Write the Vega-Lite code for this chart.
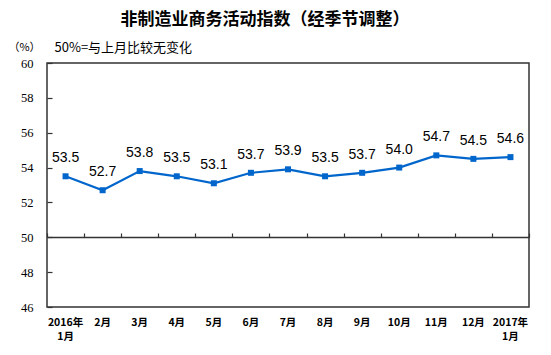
{
  "$schema": "https://vega.github.io/schema/vega-lite/v6.json",
  "autosize": "none",
  "width": 482,
  "height": 244,
  "padding": {"left": 47, "top": 63, "right": 22, "bottom": 48},
  "background": "white",
  "config": {"view": {"stroke": "#333333", "strokeWidth": 1.5}},
  "title": {
    "text": "非制造业商务活动指数（经季节调整）",
    "font": "Noto Sans CJK SC",
    "fontSize": 17,
    "fontWeight": "bold",
    "color": "#000000",
    "anchor": "middle",
    "dx": -23,
    "offset": 12
  },
  "data": {
    "values": [
      {"month": "2016年|1月", "value": 53.5},
      {"month": "2月", "value": 52.7},
      {"month": "3月", "value": 53.8},
      {"month": "4月", "value": 53.5},
      {"month": "5月", "value": 53.1},
      {"month": "6月", "value": 53.7},
      {"month": "7月", "value": 53.9},
      {"month": "8月", "value": 53.5},
      {"month": "9月", "value": 53.7},
      {"month": "10月", "value": 54.0},
      {"month": "11月", "value": 54.7},
      {"month": "12月", "value": 54.5},
      {"month": "2017年|1月", "value": 54.6}
    ]
  },
  "encoding": {
    "y": {
      "field": "value",
      "type": "quantitative",
      "scale": {"domain": [46, 60], "nice": false, "zero": false},
      "axis": {
        "values": [46, 48, 50, 52, 54, 56, 58, 60],
        "grid": false,
        "domain": false,
        "tickSize": -5,
        "tickWidth": 1.2,
        "tickColor": "#333333",
        "labelFont": "Liberation Serif",
        "labelFontSize": 12.5,
        "labelColor": "#000000",
        "labelPadding": 19,
        "title": "（%）",
        "titleAngle": 0,
        "titleFont": "Noto Sans CJK SC",
        "titleFontSize": 11,
        "titleFontWeight": "normal",
        "titleColor": "#000000",
        "titleX": -23,
        "titleY": -16,
        "titleAlign": "center",
        "titleBaseline": "middle"
      }
    }
  },
  "layer": [
    {
      "mark": {"type": "line", "color": "#0066CC", "strokeWidth": 2.2},
      "encoding": {
        "x": {
          "field": "month",
          "type": "nominal",
          "sort": null,
          "scale": {"paddingInner": 0, "paddingOuter": 0},
          "axis": {
            "orient": "top",
            "offset": -174,
            "labels": false,
            "tickBand": "extent",
            "tickSize": 4,
            "tickWidth": 1.2,
            "tickColor": "#333333",
            "domain": true,
            "domainColor": "#333333",
            "domainWidth": 1.5,
            "title": "50%=与上月比较无变化",
            "titleFont": "Noto Sans CJK SC",
            "titleFontSize": 13,
            "titleFontWeight": "normal",
            "titleColor": "#000000",
            "titleAnchor": "start",
            "titleAlign": "left",
            "titleBaseline": "middle",
            "titleX": 7,
            "titleY": -190
          }
        }
      }
    },
    {
      "mark": {"type": "square", "color": "#0066CC", "opacity": 1, "size": 36},
      "encoding": {
        "x": {
          "field": "month",
          "type": "nominal",
          "sort": null,
          "scale": {"paddingInner": 0, "paddingOuter": 0},
          "axis": {
            "orient": "bottom",
            "title": null,
            "ticks": false,
            "domain": false,
            "labelAngle": 0,
            "labelExpr": "split(datum.value, '|')",
            "labelFont": "Noto Sans CJK SC",
            "labelFontSize": 10.5,
            "labelFontWeight": "bold",
            "labelColor": "#000000",
            "labelPadding": 10,
            "labelLineHeight": 14
          }
        }
      }
    },
    {
      "mark": {"type": "text", "font": "Liberation Sans", "fontSize": 14, "color": "#000000", "dy": -18},
      "encoding": {
        "x": {"field": "month", "type": "nominal", "sort": null, "axis": null},
        "text": {"field": "value", "type": "quantitative", "format": ".1f"}
      }
    }
  ]
}
